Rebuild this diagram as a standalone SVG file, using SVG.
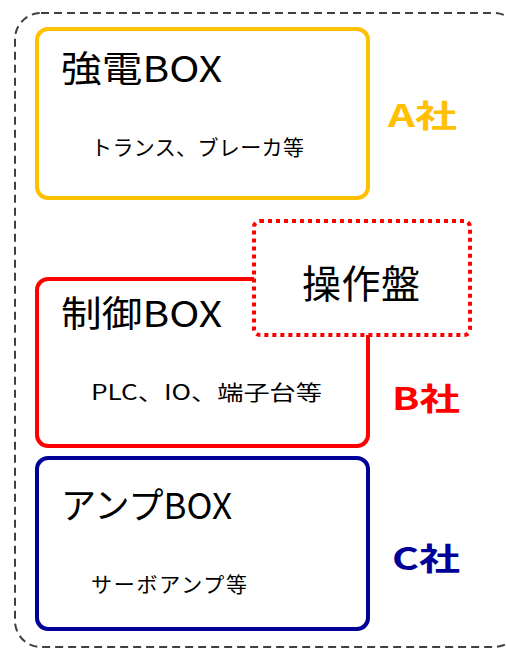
<svg xmlns="http://www.w3.org/2000/svg" width="506" height="649" viewBox="0 0 506 649">
<style>
text{font-family:"Noto Sans CJK JP","Noto Sans",sans-serif;fill:#000}
.t{font-size:36px}
.s{font-size:21px}
.co{font-size:31px;font-weight:bold}
.box{fill:#fff;stroke-width:4}
</style>
<rect x="15" y="13" width="505" height="634" rx="26" fill="none" stroke="#404040" stroke-width="2" stroke-dasharray="8 5"/>
<g id="node-a">
<rect class="box" x="37" y="29" width="331" height="169" rx="11" stroke="#FFC000"/>
<text class="t" x="61" y="82" textLength="161" lengthAdjust="spacingAndGlyphs">強電BOX</text>
<text class="s" x="91" y="155" textLength="213">トランス、ブレーカ等</text>
</g>
<text class="co" x="388" y="127" textLength="69" lengthAdjust="spacingAndGlyphs" style="fill:#FFC000">A社</text>
<g id="node-b">
<rect class="box" x="37" y="279" width="331" height="167" rx="11" stroke="#FF0000"/>
<text class="t" x="61" y="327" textLength="161" lengthAdjust="spacingAndGlyphs">制御BOX</text>
<text class="s" x="91" y="400" textLength="231" lengthAdjust="spacingAndGlyphs">PLC、IO、端子台等</text>
</g>
<g id="node-panel">
<rect x="254" y="221" width="216" height="114" rx="6" fill="#fff" stroke="#FF0000" stroke-width="4" stroke-dasharray="4 4"/>
<text x="302" y="298" textLength="118" style="font-size:39px">操作盤</text>
</g>
<text class="co" x="392" y="410" textLength="68" lengthAdjust="spacingAndGlyphs" style="fill:#FF0000">B社</text>
<g id="node-c">
<rect class="box" x="37" y="458" width="331" height="171" rx="11" stroke="#000099"/>
<text class="t" x="61" y="519" textLength="171" lengthAdjust="spacingAndGlyphs">アンプBOX</text>
<text class="s" x="91" y="592" textLength="156">サーボアンプ等</text>
</g>
<text class="co" x="392" y="570" textLength="68" lengthAdjust="spacingAndGlyphs" style="fill:#000099">C社</text>
<g id="connectors"/>
</svg>
